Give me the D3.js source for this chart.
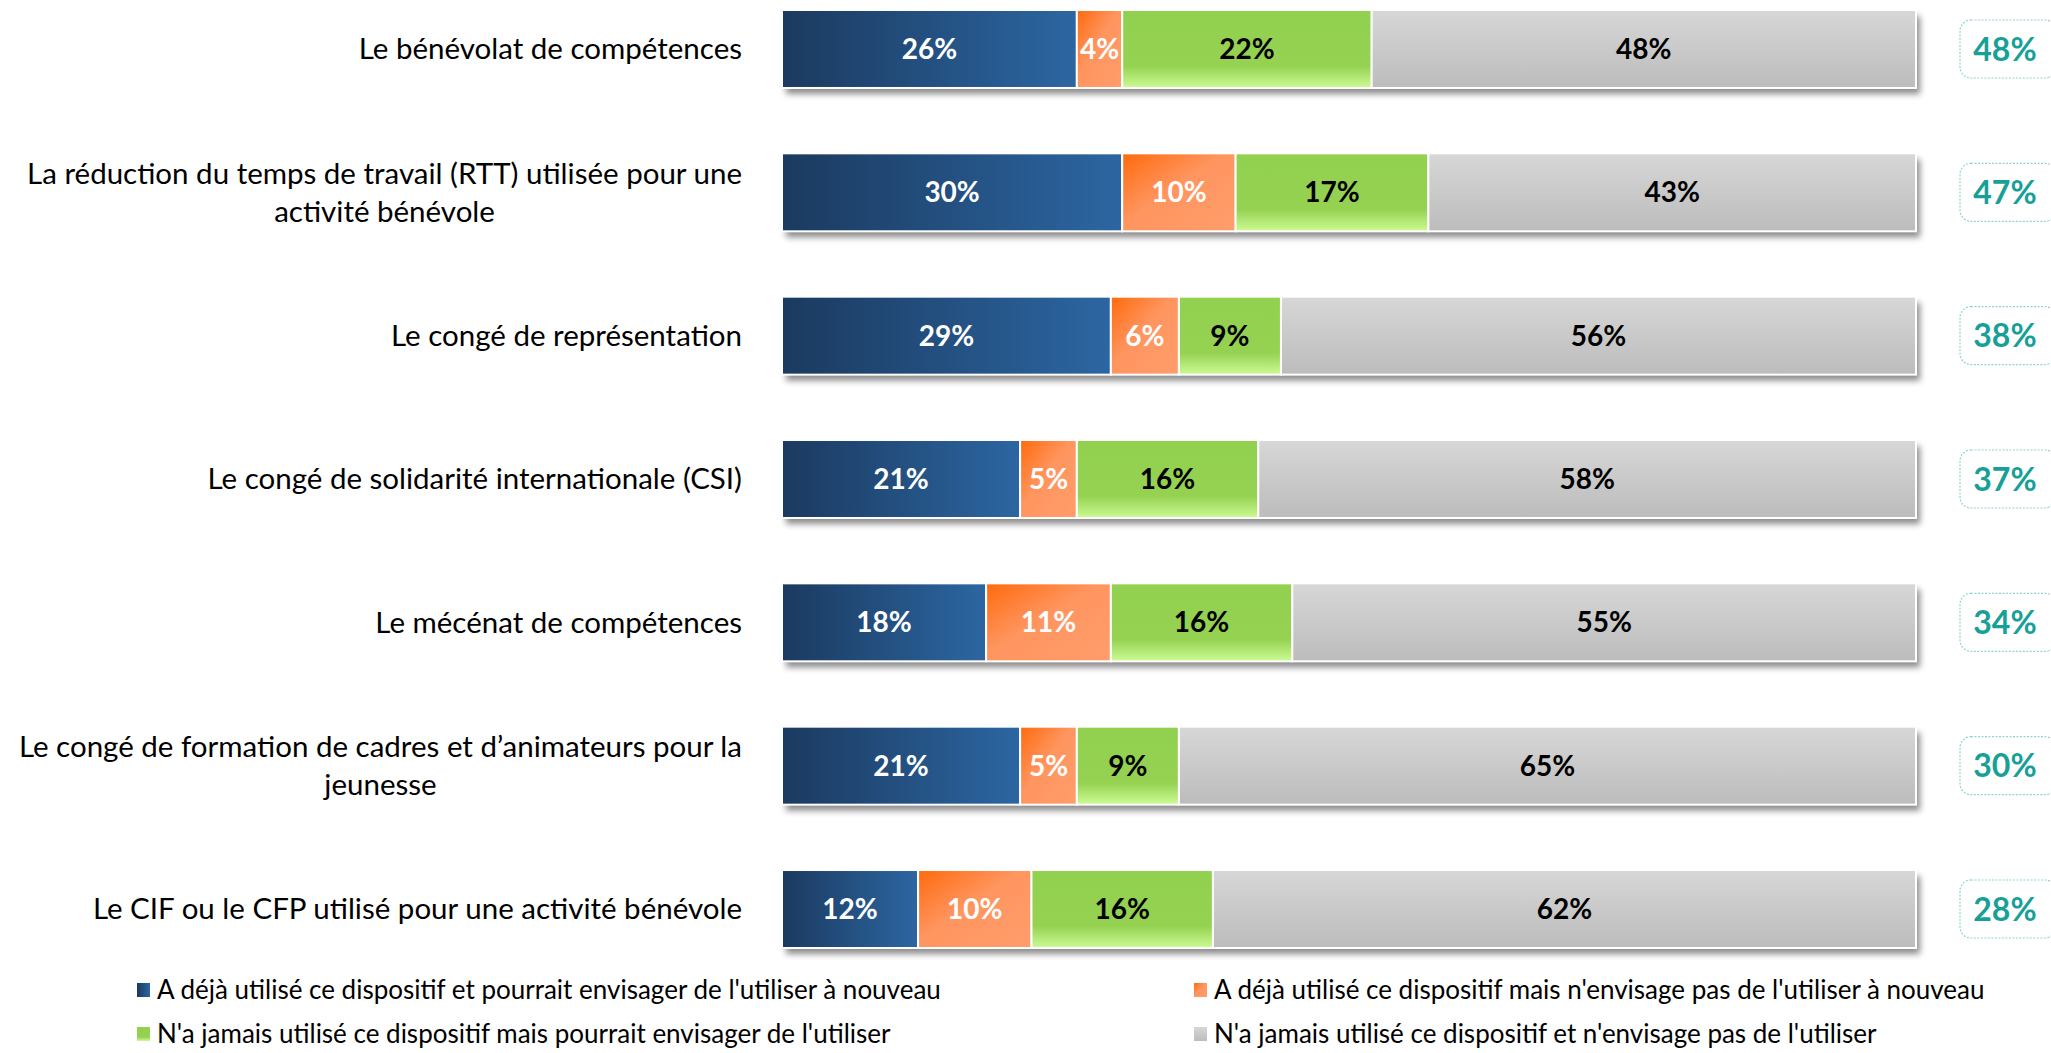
<!DOCTYPE html>
<html>
<head>
<meta charset="utf-8">
<script src="https://cdn.jsdelivr.net/npm/d3@7"></script>
<style>
  body { margin: 0; background: #fff; }
  svg { display: block; font-family: Lato, 'Open Sans', sans-serif; }
</style>
</head>
<body>
<div id="chart"></div>
<script>
// categories (one label line per array entry)
var categories = [
    ['Le bénévolat de compétences'],
    ['La réduction du temps de travail (RTT) utilisée pour une', 'activité bénévole'],
    ['Le congé de représentation'],
    ['Le congé de solidarité internationale (CSI)'],
    ['Le mécénat de compétences'],
    ['Le congé de formation de cadres et d\u2019animateurs pour la', 'jeunesse'],
    ['Le CIF ou le CFP utilisé pour une activité bénévole']
];

var series_names = [
    "A déjà utilisé ce dispositif et pourrait envisager de l'utiliser à nouveau",
    "A déjà utilisé ce dispositif mais n'envisage pas de l'utiliser à nouveau",
    "N'a jamais utilisé ce dispositif mais pourrait envisager de l'utiliser",
    "N'a jamais utilisé ce dispositif et n'envisage pas de l'utiliser"
];

var used_again     = [26, 30, 29, 21, 18, 21, 12];
var used_not_again = [4, 10, 6, 5, 11, 5, 10];
var never_could    = [22, 17, 9, 16, 16, 9, 16];
var never_not      = [48, 43, 56, 58, 55, 65, 62];

var totals = [48, 47, 38, 37, 34, 30, 28];

var W = 2051, H = 1053;

var svg = d3.select('#chart').append('svg')
    .attr('width', W)
    .attr('height', H);

var defs = svg.append('defs');

var gBlue = defs.append('linearGradient').attr('id', 'g_blue')
    .attr('x1', 0).attr('y1', 0).attr('x2', 1).attr('y2', 0);
gBlue.append('stop').attr('offset', '0%').attr('stop-color', '#1b3a5f');
gBlue.append('stop').attr('offset', '100%').attr('stop-color', '#2c66a2');

var gOrange = defs.append('linearGradient').attr('id', 'g_orange')
    .attr('x1', 0).attr('y1', 0).attr('x2', 1).attr('y2', 1);
gOrange.append('stop').attr('offset', '0%').attr('stop-color', '#ff6a0c');
gOrange.append('stop').attr('offset', '45%').attr('stop-color', '#ff955f');
gOrange.append('stop').attr('offset', '100%').attr('stop-color', '#ff9d6c');

var gGreen = defs.append('linearGradient').attr('id', 'g_green')
    .attr('x1', 0).attr('y1', 0).attr('x2', 0).attr('y2', 1);
gGreen.append('stop').attr('offset', '0%').attr('stop-color', '#92d050');
gGreen.append('stop').attr('offset', '72%').attr('stop-color', '#95d252');
gGreen.append('stop').attr('offset', '100%').attr('stop-color', '#cdfb94');

var gGray = defs.append('linearGradient').attr('id', 'g_gray')
    .attr('x1', 0).attr('y1', 0).attr('x2', 0).attr('y2', 1);
gGray.append('stop').attr('offset', '0%').attr('stop-color', '#d7d7d7');
gGray.append('stop').attr('offset', '100%').attr('stop-color', '#bcbcbc');

var shadow = defs.append('filter').attr('id', 'shadow')
    .attr('x', '-5%').attr('y', '-20%').attr('width', '110%').attr('height', '160%');
shadow.append('feDropShadow')
    .attr('dx', 4).attr('dy', 6).attr('stdDeviation', 3)
    .attr('flood-color', '#000').attr('flood-opacity', 0.45);

var fills = ['url(#g_blue)', 'url(#g_orange)', 'url(#g_green)', 'url(#g_gray)'];
var text_colors = ['#ffffff', '#ffffff', '#000000', '#000000'];

var xScale = d3.scaleLinear().domain([0, 100]).range([782, 1916]);

var yScale = d3.scaleBand()
    .domain(d3.range(categories.length))
    .range([10, 948])
    .paddingInner(0.456)
    .paddingOuter(0);

var rows = categories.map(function(c, i) {
    return { idx: i, vals: [used_again[i], used_not_again[i], never_could[i], never_not[i]] };
});

var stack = d3.stack().keys([0, 1, 2, 3]).value(function(d, k) { return d.vals[k]; });
var stacked = stack(rows);

// shadow behind each full bar
svg.append('g').selectAll('rect')
    .data(rows)
    .enter()
    .append('rect')
    .attr('x', xScale(0))
    .attr('y', function(d) { return yScale(d.idx); })
    .attr('width', xScale(100) - xScale(0))
    .attr('height', yScale.bandwidth())
    .attr('fill', '#fff')
    .attr('filter', 'url(#shadow)');

var layers = svg.append('g').selectAll('g')
    .data(stacked)
    .enter()
    .append('g');

layers.selectAll('rect')
    .data(function(s) { return s.map(function(d) { return { key: s.key, d: d }; }); })
    .enter()
    .append('rect')
    .attr('x', function(o) { return xScale(o.d[0]); })
    .attr('y', function(o) { return yScale(o.d.data.idx); })
    .attr('width', function(o) { return xScale(o.d[1]) - xScale(o.d[0]); })
    .attr('height', yScale.bandwidth())
    .attr('fill', function(o) { return fills[o.key]; })
    .attr('stroke', '#fff')
    .attr('stroke-width', 2);

layers.selectAll('text')
    .data(function(s) { return s.map(function(d) { return { key: s.key, d: d }; }); })
    .enter()
    .append('text')
    .attr('x', function(o) { return (xScale(o.d[0]) + xScale(o.d[1])) / 2; })
    .attr('y', function(o) { return yScale(o.d.data.idx) + yScale.bandwidth() / 2; })
    .attr('dy', '0.36em')
    .attr('text-anchor', 'middle')
    .attr('font-size', 28)
    .attr('font-weight', 'bold')
    .attr('fill', function(o) { return text_colors[o.key]; })
    .text(function(o) { return (o.d[1] - o.d[0]) + '%'; });

// category labels, block right-aligned, lines centred within block
var labelRight = 742;
var lineH = 38;
var labels = svg.append('g').attr('font-size', 29.5).attr('fill', '#000');

categories.forEach(function(lines, i) {
    var cy = yScale(i) + yScale.bandwidth() / 2;
    var g = labels.append('g');
    var texts = lines.map(function(line, j) {
        return g.append('text')
            .attr('y', cy + (j - (lines.length - 1) / 2) * lineH)
            .attr('dy', '0.35em')
            .attr('text-anchor', 'middle')
            .text(line);
    });
    var maxW = d3.max(texts, function(t) { return t.node().getComputedTextLength(); });
    texts.forEach(function(t) { t.attr('x', labelRight - maxW / 2); });
});

// total badges on the right
var badges = svg.append('g').selectAll('g')
    .data(totals)
    .enter()
    .append('g')
    .attr('transform', function(d, i) {
        return 'translate(1960,' + (yScale(i) + yScale.bandwidth() / 2) + ')';
    });

badges.append('rect')
    .attr('x', 0)
    .attr('y', -29)
    .attr('width', 96)
    .attr('height', 58)
    .attr('rx', 11)
    .attr('fill', '#fff')
    .attr('stroke', '#8fd4cf')
    .attr('stroke-width', 1.2)
    .attr('stroke-dasharray', '2,1.5');

badges.append('text')
    .attr('x', 45)
    .attr('dy', '0.36em')
    .attr('text-anchor', 'middle')
    .attr('font-size', 32)
    .attr('font-weight', 'bold')
    .attr('fill', '#17a098')
    .text(function(d) { return d + '%'; });

// legend
var legendPos = [[137, 990], [1194, 990], [137, 1034], [1194, 1034]];
var legend = svg.append('g').selectAll('g')
    .data(series_names)
    .enter()
    .append('g')
    .attr('transform', function(d, i) { return 'translate(' + legendPos[i][0] + ',' + legendPos[i][1] + ')'; });

legend.append('rect')
    .attr('x', 0)
    .attr('y', -7)
    .attr('width', 13)
    .attr('height', 14)
    .attr('fill', function(d, i) { return fills[i]; });

legend.append('text')
    .attr('x', 20)
    .attr('dy', '0.35em')
    .attr('font-size', 26)
    .attr('fill', '#000')
    .text(function(d) { return d; });
</script>
</body>
</html>
